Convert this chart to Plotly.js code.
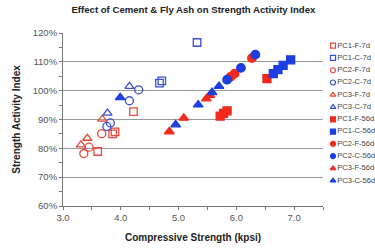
<!DOCTYPE html>
<html><head><meta charset="utf-8">
<script src="https://cdn.plot.ly/plotly-3.0.1.min.js"></script>
<style>html,body{margin:0;padding:0;background:#fff}#chart{width:375px;height:249px}</style>
</head><body><div id="chart"></div>
<script>
// Series data: compressive strength (kpsi) and strength activity index (%)
const seriesNames = ["PC1-F-7d","PC1-C-7d","PC2-F-7d","PC2-C-7d","PC3-F-7d","PC3-C-7d",
                     "PC1-F-56d","PC1-C-56d","PC2-F-56d","PC2-C-56d","PC3-F-56d","PC3-C-56d"];
const pc1F7x = [3.60, 3.86, 3.90, 4.22];       const pc1F7y = [78.9, 85.0, 85.7, 92.7];
const pc1C7x = [4.67, 4.71, 5.32];             const pc1C7y = [102.6, 103.4, 116.7];
const pc2F7x = [3.36, 3.45, 3.67];             const pc2F7y = [78.2, 80.4, 85.1];
const pc2C7x = [3.76, 3.82, 4.15, 4.31];       const pc2C7y = [87.6, 88.8, 96.5, 100.3];
const pc3F7x = [3.31, 3.42, 3.68];             const pc3F7y = [81.2, 83.5, 90.1];
const pc3C7x = [3.77, 4.15];                   const pc3C7y = [92.2, 101.5];
const pc1F56x = [5.72, 5.78, 5.84, 6.53];      const pc1F56y = [91.2, 92.1, 93.0, 104.2];
const pc1C56x = [6.64, 6.72, 6.81, 6.94];      const pc1C56y = [105.9, 107.3, 108.8, 110.7];
const pc2F56x = [5.90, 5.97, 6.27];            const pc2F56y = [104.8, 105.9, 111.3];
const pc2C56x = [5.84, 6.08, 6.33];            const pc2C56y = [103.8, 107.9, 112.5];
const pc3F56x = [4.84, 5.09, 5.48, 5.54];      const pc3F56y = [85.8, 90.5, 97.2, 98.4];
const pc3C56x = [3.99, 4.95, 5.34, 5.58, 5.70];const pc3C56y = [97.6, 88.2, 95.1, 99.4, 101.5];
const xTickVals = [3, 4, 5, 6, 7];
const xTickText = ["3.0", "4.0", "5.0", "6.0", "7.0"];
const yTickVals = [60, 70, 80, 90, 100, 110, 120];
const yTickText = ["60%", "70%", "80%", "90%", "100%", "110%", "120%"];

const RED = "#f02a1c", RED_O = "#e8493c", BLUE = "#1d3ee0", BLUE_O = "#3a4fd6";
const xs = [pc1F7x, pc1C7x, pc2F7x, pc2C7x, pc3F7x, pc3C7x, pc1F56x, pc1C56x, pc2F56x, pc2C56x, pc3F56x, pc3C56x];
const ys = [pc1F7y, pc1C7y, pc2F7y, pc2C7y, pc3F7y, pc3C7y, pc1F56y, pc1C56y, pc2F56y, pc2C56y, pc3F56y, pc3C56y];
const styles = [
  {symbol:"square-open", color:RED_O, size:7.5},
  {symbol:"square-open", color:BLUE_O, size:7.5},
  {symbol:"circle-open", color:RED_O, size:8},
  {symbol:"circle-open", color:BLUE_O, size:8},
  {symbol:"triangle-up-open", color:RED_O, size:8},
  {symbol:"triangle-up-open", color:BLUE_O, size:8},
  {symbol:"square", color:RED, size:8},
  {symbol:"square", color:BLUE, size:8},
  {symbol:"circle", color:RED, size:8.5},
  {symbol:"circle", color:BLUE, size:8.5},
  {symbol:"triangle-up", color:RED, size:8.5},
  {symbol:"triangle-up", color:BLUE, size:8.5}
];

const traces = [];
seriesNames.forEach((n, i) => {
  const s = styles[i];
  traces.push({
    type:"scatter", mode:"markers", name:n, x:xs[i], y:ys[i], showlegend:false,
    marker:{symbol:s.symbol, color:s.color, size:s.size, line:{color:s.color, width:1.3}},
    xaxis:"x", yaxis:"y", hoverinfo:"skip"
  });
});
// custom compact legend
seriesNames.forEach((n, i) => {
  const s = styles[i];
  traces.push({
    type:"scatter", mode:"markers+text", x:[5], y:[-i], text:[n], textposition:"middle right",
    textfont:{family:"Liberation Sans, Arial, sans-serif", size:7.6, color:"#444"},
    marker:{symbol:s.symbol, color:s.color, size:5, line:{color:s.color, width:1.2}},
    showlegend:false, xaxis:"x2", yaxis:"y2", hoverinfo:"skip", cliponaxis:false
  });
});

const FONT = "Liberation Sans, Arial, sans-serif";
const layout = {
  width:375, height:249,
  margin:{l:63, r:0, t:33, b:43},
  paper_bgcolor:"#fff", plot_bgcolor:"#fff",
  font:{family:FONT, color:"#333"},
  title:{text:"Effect of Cement & Fly Ash on Strength Activity Index",
         font:{family:FONT, size:9.6, color:"#222", weight:"bold"},
         x:0.418, xanchor:"center", xref:"paper", y:0.96, yanchor:"middle", yref:"container"},
  xaxis:{domain:[0, 260/312], range:[3, 7.5], tickvals:xTickVals, ticktext:xTickText,
         showgrid:false, zeroline:false, showline:true, linecolor:"#777", linewidth:1,
         ticks:"outside", ticklen:3, tickcolor:"#777",
         minor:{dtick:0.5, ticks:"outside", ticklen:3, tickcolor:"#777"},
         tickfont:{family:FONT, size:9.5, color:"#555"},
         title:{text:"Compressive Strength (kpsi)", font:{family:FONT, size:10, color:"#222", weight:"bold"}, standoff:11}},
  yaxis:{range:[60, 120], tickvals:yTickVals, ticktext:yTickText,
         showgrid:true, gridcolor:"#999", gridwidth:1, zeroline:false,
         showline:true, linecolor:"#777", linewidth:1,
         ticks:"outside", ticklen:3, tickcolor:"#777",
         minor:{dtick:5, ticks:"outside", ticklen:3, tickcolor:"#777", showgrid:false},
         tickfont:{family:FONT, size:9.5, color:"#555"},
         title:{text:"Strength Activity Index", font:{family:FONT, size:10, color:"#222", weight:"bold"}, standoff:10}},
  xaxis2:{domain:[265/312, 1], range:[0, 47], visible:false, fixedrange:true},
  yaxis2:{domain:[0, 1], range:[-13.065, 1.035], visible:false, fixedrange:true, anchor:"x2"},
  showlegend:false
};
Plotly.newPlot("chart", traces, layout, {displayModeBar:false, staticPlot:true});
</script></body></html>
